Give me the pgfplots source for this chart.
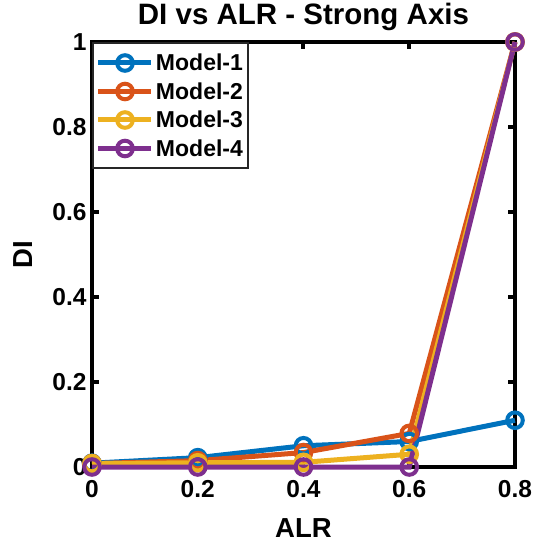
\documentclass[border=0pt]{standalone}
\usepackage{pgfplots}
\pgfplotsset{compat=1.18}
\usepackage{fontspec}
\setmainfont{Liberation Sans}
\definecolor{mblue}{RGB}{0,114,189}
\definecolor{morange}{RGB}{217,83,25}
\definecolor{myellow}{RGB}{237,177,32}
\definecolor{mpurple}{RGB}{126,47,142}
\tikzset{mstyle/.style={line width=5pt, mark=o, mark size=7.8pt, mark options={solid, line width=4pt}}}
\begin{document}
\begin{tikzpicture}
\useasboundingbox (-92pt,-77pt) rectangle (441pt,467pt);
\begin{axis}[
  width=423pt, height=425pt, scale only axis,
  xmin=0, xmax=0.8, ymin=0, ymax=1,
  clip=false,
  xtick={0,0.2,0.4,0.6,0.8},
  ytick={0,0.2,0.4,0.6,0.8,1},
  axis line style={line width=4pt, black},
  major tick length=7pt,
  every tick/.style={line width=4pt, black},
  tick align=inside,
  /pgf/number format/assume math mode=true,
  /pgf/number format/fixed,
  /pgf/number format/precision=1,
  ticklabel style={font=\bfseries\fontsize{24.5}{24.5}\selectfont},
  xticklabel style={yshift=-10pt},
  yticklabel style={xshift=-2pt},
  title={DI vs ALR - Strong Axis},
  title style={font=\bfseries\fontsize{29.5}{29.5}\selectfont, at={(axis description cs:0.5,1.0282)}, anchor=base, inner sep=0pt},
  xlabel={ALR},
  xlabel style={font=\bfseries\fontsize{27.5}{27.5}\selectfont, at={(axis description cs:0.5,-0.165)}, anchor=base, inner sep=0pt},
  ylabel={DI},
  ylabel style={font=\bfseries\fontsize{27.5}{27.5}\selectfont, at={(axis description cs:-0.1395,0.5)}, anchor=base, inner sep=0pt},
  legend image code/.code={\draw[mark repeat=2, mark phase=2, #1] plot coordinates {(0pt,0pt) (26.5pt,0pt) (53pt,0pt)};},
  legend style={at={(axis description cs:0,1)}, anchor=north west, draw=black!85, line width=2pt,
    font=\bfseries\fontsize{23}{23}\selectfont, fill=white,
    inner xsep=3pt, inner ysep=10pt, row sep=8.5pt,
    nodes={inner sep=2pt, text height=16pt, text depth=0pt}},
  legend cell align=left,
]
\addplot[mstyle, color=mblue] coordinates {(0,0.009) (0.2,0.022) (0.4,0.05) (0.6,0.06) (0.8,0.11)};
\addlegendentry{Model-1}
\addplot[mstyle, color=morange] coordinates {(0,0.008) (0.2,0.015) (0.4,0.034) (0.6,0.079) (0.8,1)};
\addlegendentry{Model-2}
\addplot[mstyle, color=myellow] coordinates {(0,0.008) (0.2,0.01) (0.4,0.011) (0.6,0.03) (0.8,1)};
\addlegendentry{Model-3}
\addplot[mstyle, color=mpurple] coordinates {(0,0) (0.2,0) (0.4,0) (0.6,0) (0.8,1)};
\addlegendentry{Model-4}
\end{axis}
\end{tikzpicture}
\end{document}
